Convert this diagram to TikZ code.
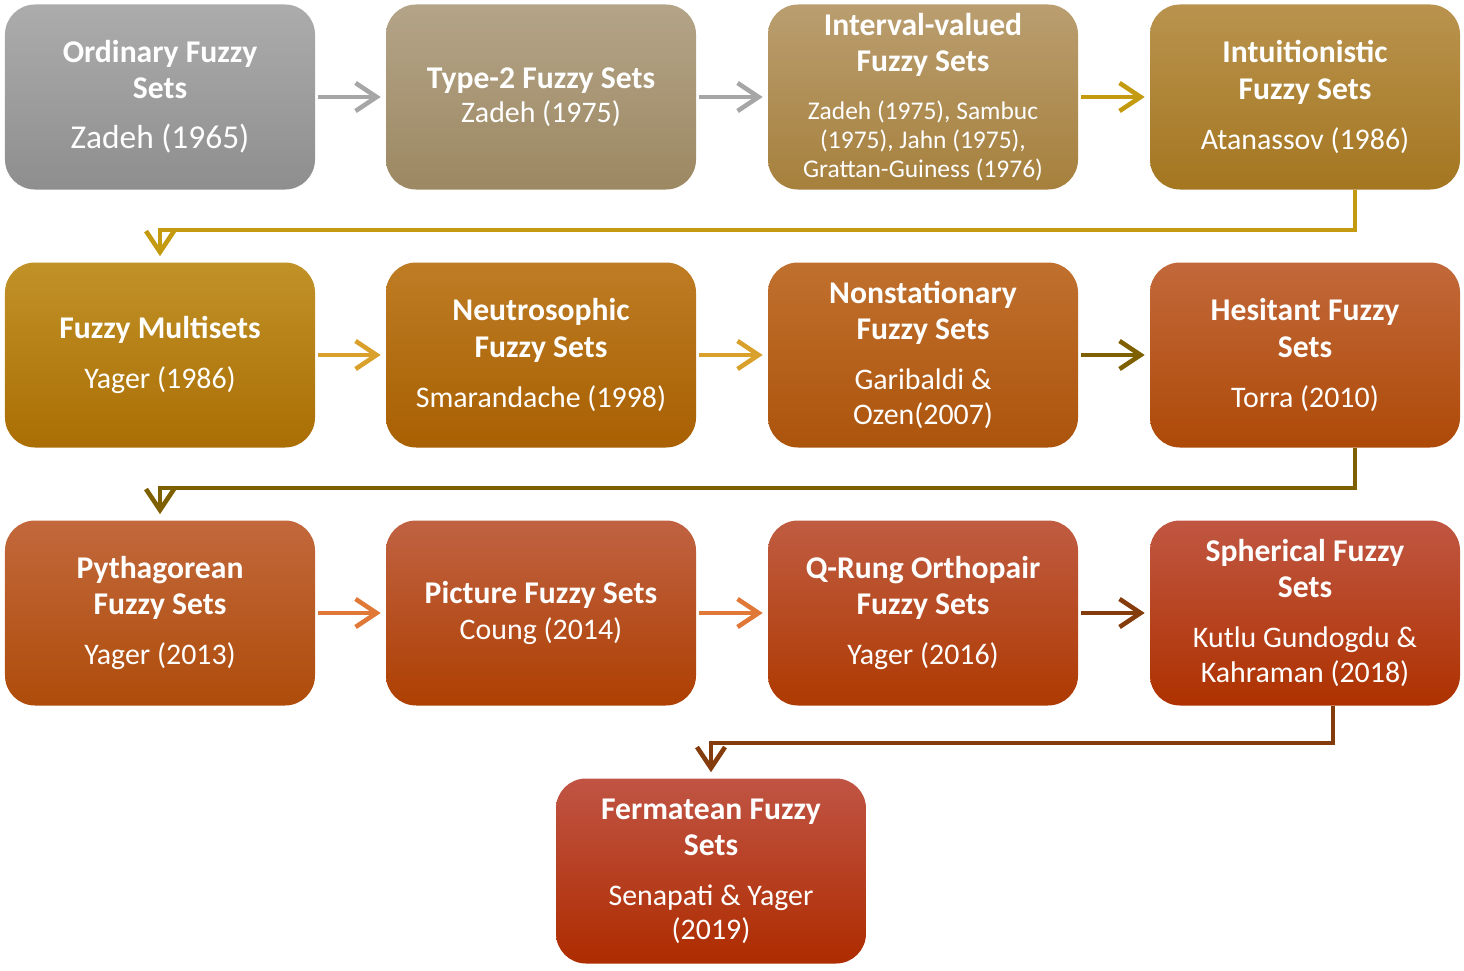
\documentclass[tikz,border=0pt]{standalone}
\usepackage{fontspec}
\setmainfont{Carlito}
\usetikzlibrary{arrows.meta}

\definecolor{ordA}{HTML}{ACACAC}\definecolor{ordB}{HTML}{8E8E8E}
\definecolor{typA}{HTML}{B4A488}\definecolor{typB}{HTML}{9C8862}
\definecolor{intA}{HTML}{BA9E70}\definecolor{intB}{HTML}{A6803C}
\definecolor{ituA}{HTML}{B9934E}\definecolor{ituB}{HTML}{A47620}
\definecolor{mulA}{HTML}{C19228}\definecolor{mulB}{HTML}{AA6E04}
\definecolor{neuA}{HTML}{BE7C24}\definecolor{neuB}{HTML}{A86002}
\definecolor{nstA}{HTML}{C0702E}\definecolor{nstB}{HTML}{AC540C}
\definecolor{hesA}{HTML}{C2683A}\definecolor{hesB}{HTML}{AE4A08}
\definecolor{pytA}{HTML}{C2683C}\definecolor{pytB}{HTML}{AE4C0A}
\definecolor{picA}{HTML}{C06242}\definecolor{picB}{HTML}{AE4002}
\definecolor{qroA}{HTML}{C05C42}\definecolor{qroB}{HTML}{AE3A02}
\definecolor{sphA}{HTML}{C05642}\definecolor{sphB}{HTML}{AE3200}
\definecolor{ferA}{HTML}{C05444}\definecolor{ferB}{HTML}{AE2C00}
\definecolor{arGray}{HTML}{A6A6A6}
\definecolor{arGold}{HTML}{C39A10}
\definecolor{arAmber}{HTML}{D9A02C}
\definecolor{arOlive}{HTML}{7F6000}
\definecolor{arOrange}{HTML}{E07838}
\definecolor{arBrown}{HTML}{843C0C}

\newcommand\hd[1]{{\fontsize{18}{20.5}\selectfont\bfseries #1}}
\newcommand\sm[1]{{\fontsize{14.5}{16}\selectfont #1}}

\begin{document}
\begin{tikzpicture}[
  box/.style={rounded corners=.6cm,minimum width=6.2cm,minimum height=3.7cm,
              inner sep=0pt,align=center,text=white,
              font=\fontsize{17}{20.5}\selectfont},
  tint/.style 2 args={top color=#1,bottom color=#2},
  edge/.style={-{Straight Barb[length=4.2mm,width=5.6mm]},line width=2.6pt,
               shorten <=.06cm,shorten >=.1cm},
  turn/.style={edge,shorten <=0pt,shorten >=.12cm}
]
  \useasboundingbox (0,0) rectangle (29.28,-19.4);

  \node[box,tint={ordA}{ordB}] (ofs) at (3.2,-1.94)
    {\hd{Ordinary Fuzzy}\\\hd{Sets}\\[8pt]{\fontsize{19}{22}\selectfont Zadeh (1965)}};
  \node[box,tint={typA}{typB}] (t2fs) at (10.82,-1.94)
    {\hd{Type-2 Fuzzy Sets}\\[-1pt]Zadeh (1975)};
  \node[box,tint={intA}{intB}] (ivfs) at (18.46,-1.94)
    {\hd{Interval-valued}\\\hd{Fuzzy Sets}\\[7pt]\sm{Zadeh (1975), Sambuc}\\[-4pt]
     \sm{(1975), Jahn (1975),}\\[-4pt]\sm{Grattan-Guiness (1976)}};
  \node[box,tint={ituA}{ituB}] (ifs) at (26.1,-1.94)
    {\hd{Intuitionistic}\\\hd{Fuzzy Sets}\\[8pt]Atanassov (1986)};

  \node[box,tint={mulA}{mulB}] (fms) at (3.2,-7.1)
    {\hd{Fuzzy Multisets}\\[8pt]Yager (1986)};
  \node[box,tint={neuA}{neuB}] (nfs) at (10.82,-7.1)
    {\hd{Neutrosophic}\\\hd{Fuzzy Sets}\\[8pt]Smarandache (1998)};
  \node[box,tint={nstA}{nstB}] (nsfs) at (18.46,-7.1)
    {\hd{Nonstationary}\\\hd{Fuzzy Sets}\\[8pt]Garibaldi \&\\[-1pt]Ozen(2007)};
  \node[box,tint={hesA}{hesB}] (hfs) at (26.1,-7.1)
    {\hd{Hesitant Fuzzy}\\\hd{Sets}\\[8pt]Torra (2010)};

  \node[box,tint={pytA}{pytB}] (pfs) at (3.2,-12.26)
    {\hd{Pythagorean}\\\hd{Fuzzy Sets}\\[8pt]Yager (2013)};
  \node[box,tint={picA}{picB}] (picfs) at (10.82,-12.26)
    {\hd{Picture Fuzzy Sets}\\[0pt]Coung (2014)};
  \node[box,tint={qroA}{qroB}] (qrofs) at (18.46,-12.26)
    {\hd{Q-Rung Orthopair}\\\hd{Fuzzy Sets}\\[8pt]Yager (2016)};
  \node[box,tint={sphA}{sphB}] (sfs) at (26.1,-12.26)
    {\hd{Spherical Fuzzy}\\\hd{Sets}\\[8pt]Kutlu Gundogdu \&\\[-1pt]Kahraman (2018)};

  \node[box,tint={ferA}{ferB}] (ffs) at (14.22,-17.42)
    {\hd{Fermatean Fuzzy}\\\hd{Sets}\\[8pt]Senapati \& Yager\\[-1pt](2019)};

  \draw[edge,arGray] (ofs) -- (t2fs);
  \draw[edge,arGray] (t2fs) -- (ivfs);
  \draw[edge,arGold] (ivfs) -- (ifs);
  \draw[turn,arGold] ([xshift=1cm]ifs.south) -- ++(0,-.8) -| (fms.north);

  \draw[edge,arAmber] (fms) -- (nfs);
  \draw[edge,arAmber] (nfs) -- (nsfs);
  \draw[edge,arOlive] (nsfs) -- (hfs);
  \draw[turn,arOlive] ([xshift=1cm]hfs.south) -- ++(0,-.8) -| (pfs.north);

  \draw[edge,arOrange] (pfs) -- (picfs);
  \draw[edge,arOrange] (picfs) -- (qrofs);
  \draw[edge,arBrown] (qrofs) -- (sfs);
  \draw[turn,arBrown] ([xshift=.56cm]sfs.south) -- ++(0,-.74) -| (ffs.north);
\end{tikzpicture}
\end{document}
